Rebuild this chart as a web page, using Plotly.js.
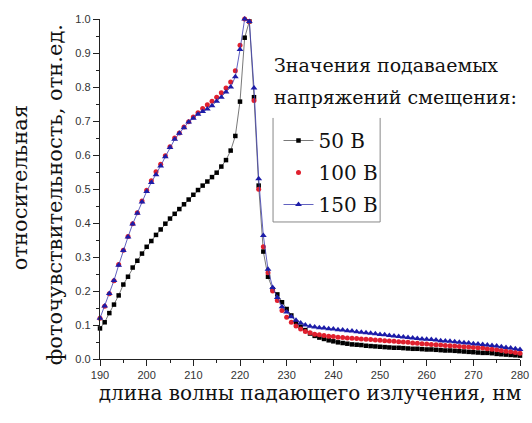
<!DOCTYPE html>
<html>
<head>
<meta charset="utf-8">
<script src="https://cdn.plot.ly/plotly-3.0.1.min.js"></script>
<style>
html,body{margin:0;padding:0;background:#fff;}
#chart{width:532px;height:423px;}
</style>
</head>
<body>
<div id="chart"></div>
<script>
var wavelength = [190,191,192,193,194,195,196,197,198,199,200,201,202,203,204,205,206,207,208,209,210,211,212,213,214,215,216,217,218,219,220,221,222,223,224,225,226,227,228,229,230,231,232,233,234,235,236,237,238,239,240,241,242,243,244,245,246,247,248,249,250,251,252,253,254,255,256,257,258,259,260,261,262,263,264,265,266,267,268,269,270,271,272,273,274,275,276,277,278,279,280];

var v50 = [0.09,0.108,0.135,0.16,0.187,0.219,0.242,0.269,0.289,0.31,0.33,0.347,0.365,0.381,0.398,0.413,0.427,0.441,0.455,0.469,0.483,0.497,0.51,0.522,0.535,0.548,0.566,0.585,0.613,0.656,0.757,0.945,0.993,0.77,0.51,0.316,0.242,0.205,0.19,0.167,0.147,0.128,0.108,0.095,0.085,0.075,0.068,0.063,0.059,0.055,0.052,0.049,0.047,0.045,0.043,0.042,0.041,0.039,0.038,0.037,0.036,0.035,0.034,0.033,0.033,0.032,0.031,0.03,0.03,0.029,0.028,0.028,0.027,0.026,0.025,0.025,0.024,0.023,0.022,0.021,0.02,0.019,0.018,0.018,0.017,0.015,0.014,0.013,0.012,0.011,0.01];

var v100 = [0.12,0.155,0.192,0.23,0.278,0.32,0.36,0.398,0.43,0.465,0.496,0.524,0.551,0.573,0.598,0.624,0.65,0.665,0.682,0.698,0.712,0.724,0.737,0.748,0.758,0.77,0.783,0.797,0.815,0.848,0.923,1.0,0.993,0.76,0.499,0.33,0.254,0.2,0.172,0.143,0.123,0.108,0.097,0.088,0.081,0.077,0.073,0.071,0.069,0.067,0.066,0.064,0.063,0.062,0.061,0.06,0.059,0.058,0.057,0.056,0.055,0.054,0.053,0.052,0.051,0.05,0.049,0.047,0.046,0.045,0.044,0.043,0.042,0.041,0.04,0.039,0.038,0.037,0.036,0.035,0.034,0.033,0.032,0.03,0.029,0.027,0.025,0.023,0.021,0.019,0.017];

var v150 = [0.12,0.156,0.193,0.231,0.276,0.319,0.359,0.397,0.429,0.462,0.493,0.519,0.542,0.568,0.595,0.622,0.646,0.664,0.68,0.697,0.708,0.72,0.728,0.735,0.745,0.758,0.77,0.785,0.8,0.83,0.91,1.0,0.993,0.797,0.53,0.363,0.264,0.21,0.181,0.154,0.138,0.124,0.114,0.106,0.1,0.096,0.094,0.092,0.091,0.089,0.088,0.086,0.085,0.083,0.082,0.08,0.079,0.077,0.076,0.074,0.072,0.071,0.069,0.068,0.066,0.065,0.063,0.062,0.06,0.059,0.058,0.057,0.056,0.054,0.053,0.052,0.051,0.049,0.048,0.047,0.045,0.044,0.043,0.041,0.04,0.038,0.036,0.034,0.032,0.03,0.028];

var seriesNames = ['50 В', '100 В', '150 В'];
var xTickVals = [190,200,210,220,230,240,250,260,270,280];
var yTickVals = [0.0,0.1,0.2,0.3,0.4,0.5,0.6,0.7,0.8,0.9,1.0];
var yTickText = ['0.0','0.1','0.2','0.3','0.4','0.5','0.6','0.7','0.8','0.9','1.0'];

var serif = 'DejaVu Serif';
var sans = 'Liberation Sans, Arial, sans-serif';

var traces = [
  {x: wavelength, y: v50, name: seriesNames[0], legendgroup: 'g1', type: 'scatter', mode: 'lines+markers', cliponaxis: false,
   line: {color: '#555555', width: 0.8},
   marker: {symbol: 'square', size: 4.5, color: '#000000'}},
  {x: wavelength, y: v100, name: seriesNames[1], legendgroup: 'g2', type: 'scatter', mode: 'markers', cliponaxis: false,
   marker: {symbol: 'circle', size: 5, color: '#e0202e'}},
  {x: wavelength, y: v150, name: seriesNames[2], legendgroup: 'g3', type: 'scatter', mode: 'lines+markers', cliponaxis: false,
   line: {color: '#3a3ab0', width: 0.8},
   marker: {symbol: 'triangle-up', size: 6, color: '#1c1ca8'}}
];

var layout = {
  width: 532, height: 423,
  margin: {l: 100, r: 12, t: 19, b: 64},
  paper_bgcolor: '#ffffff', plot_bgcolor: '#ffffff',
  showlegend: true,
  legend: {x: 0.425, y: 0.7, xanchor: 'left', yanchor: 'top', bgcolor: 'rgba(0,0,0,0)', tracegroupgap: 3,
           borderwidth: 0, font: {family: serif, size: 20, color: '#111'}, itemwidth: 30},
  xaxis: {range: [190, 280], tickvals: xTickVals, ticks: 'outside', ticklen: 6, tickwidth: 1,
          tickcolor: '#222', showline: true, linecolor: '#222', linewidth: 1.2, showgrid: false, zeroline: false,
          minor: {dtick: 5, ticks: 'outside', ticklen: 3, tickcolor: '#222', showgrid: false},
          tickfont: {family: sans, size: 11, color: '#333'},
          title: {text: 'длина волны падающего излучения, нм', font: {family: serif, size: 20, color: '#111'}, standoff: 3}},
  yaxis: {range: [0, 1.0], tickvals: yTickVals, ticktext: yTickText, ticks: 'outside', ticklen: 6, tickwidth: 1,
          tickcolor: '#222', showline: true, linecolor: '#222', linewidth: 1.2, showgrid: false, zeroline: false,
          minor: {dtick: 0.05, ticks: 'outside', ticklen: 3, tickcolor: '#222', showgrid: false},
          tickfont: {family: sans, size: 11, color: '#333'}},
  annotations: [
    {xref: 'paper', yref: 'paper', x: -0.107, y: 0.482, xanchor: 'center', yanchor: 'middle', showarrow: false,
     textangle: -90, text: 'фоточувствительность, отн.ед.', font: {family: serif, size: 21, color: '#111'}},
    {xref: 'paper', yref: 'paper', x: -0.19, y: 0.503, xanchor: 'center', yanchor: 'middle', showarrow: false,
     textangle: -90, text: 'относительная', font: {family: serif, size: 21, color: '#111'}},
    {xref: 'paper', yref: 'paper', x: 0.41, y: 0.865, xanchor: 'left', yanchor: 'middle', showarrow: false,
     text: 'Значения подаваемых', font: {family: serif, size: 19, color: '#111'}},
    {xref: 'paper', yref: 'paper', x: 0.41, y: 0.771, xanchor: 'left', yanchor: 'middle', showarrow: false,
     text: 'напряжений смещения:', font: {family: serif, size: 19, color: '#111'}}
  ],
  shapes: [
    {type: 'path', xref: 'paper', yref: 'paper', path: 'M 0.412 0.709 L 0.412 0.403 L 0.667 0.403 L 0.667 0.709',
     line: {color: '#888', width: 1}}
  ]
};

Plotly.newPlot('chart', traces, layout, {displayModeBar: false, staticPlot: true});
</script>
</body>
</html>
